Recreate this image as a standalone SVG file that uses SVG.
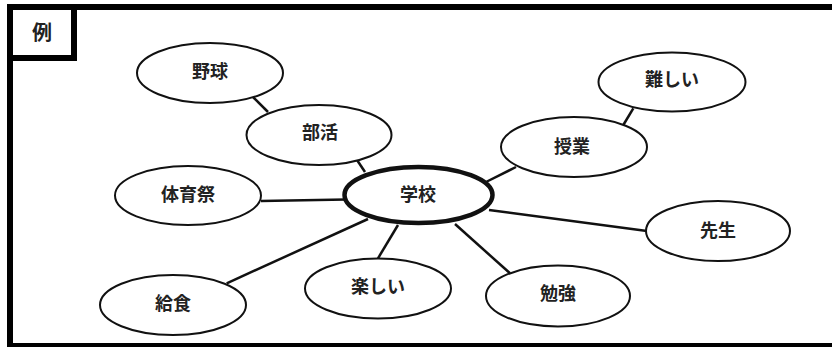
<svg xmlns="http://www.w3.org/2000/svg" width="832" height="347" viewBox="0 0 832 347">
<style>
.n{fill:#fff;stroke:#111;stroke-width:2}
.c{fill:#fff;stroke:#111;stroke-width:4.5}
.t{font-family:"Noto Sans CJK JP","Noto Sans CJK SC",sans-serif;font-size:18px;font-weight:bold;fill:#222;text-anchor:middle;dominant-baseline:central}
.l{stroke:#111;stroke-width:2.5;fill:none}
</style>
<rect x="0" y="0" width="832" height="347" fill="#fff"/>
<rect id="frame" x="10" y="7" width="830" height="339" fill="none" stroke="#000" stroke-width="6"/>
<g id="label">
<rect x="10" y="7" width="64" height="51" fill="#fff" stroke="#000" stroke-width="6"/>
<text class="t" x="42" y="31" style="font-size:20px">例</text>
</g>
<g id="connectors">
<line class="l" x1="253" y1="97" x2="268" y2="112"/>
<line class="l" x1="357" y1="160" x2="365" y2="172"/>
<line class="l" x1="261" y1="201" x2="346" y2="199.5"/>
<line class="l" x1="226.7" y1="283.3" x2="368" y2="219"/>
<line class="l" x1="378" y1="258.3" x2="398" y2="225"/>
<line class="l" x1="455" y1="224" x2="510" y2="273.3"/>
<line class="l" x1="486" y1="182" x2="516" y2="167"/>
<line class="l" x1="489" y1="210" x2="647" y2="231"/>
<line class="l" x1="633.3" y1="108.3" x2="623.3" y2="125"/>
</g>
<g id="n-yakyu"><ellipse class="n" cx="210" cy="73" rx="73" ry="30"/><text class="t" x="210" y="70">野球</text></g>
<g id="n-bukatsu"><ellipse class="n" cx="319" cy="135" rx="72.5" ry="30"/><text class="t" x="320" y="131">部活</text></g>
<g id="n-taiikusai"><ellipse class="n" cx="188" cy="195.5" rx="73" ry="29.5"/><text class="t" x="188" y="193">体育祭</text></g>
<g id="n-gakkou"><ellipse class="c" cx="418.5" cy="195" rx="74" ry="28"/><text class="t" x="418" y="193">学校</text></g>
<g id="n-kyuushoku"><ellipse class="n" cx="173" cy="305" rx="73" ry="30"/><text class="t" x="173" y="302">給食</text></g>
<g id="n-tanoshii"><ellipse class="n" cx="378" cy="288.5" rx="73" ry="30"/><text class="t" x="378" y="285">楽しい</text></g>
<g id="n-benkyou"><ellipse class="n" cx="558" cy="296" rx="72" ry="30.5"/><text class="t" x="558" y="292">勉強</text></g>
<g id="n-sensei"><ellipse class="n" cx="718" cy="231" rx="72" ry="30"/><text class="t" x="718" y="229">先生</text></g>
<g id="n-jugyou"><ellipse class="n" cx="574" cy="147" rx="73" ry="30"/><text class="t" x="572" y="145">授業</text></g>
<g id="n-muzukashii"><ellipse class="n" cx="672" cy="82" rx="73.5" ry="29.5"/><text class="t" x="672" y="78">難しい</text></g>
</svg>
